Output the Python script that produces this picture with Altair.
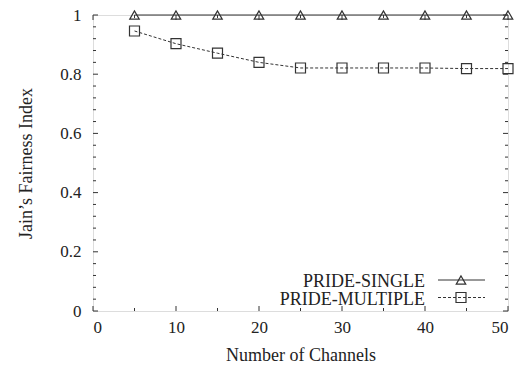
import altair as alt
import pandas as pd

channels = [5, 10, 15, 20, 25, 30, 35, 40, 45, 50]
single = [1.0, 1.0, 1.0, 1.0, 1.0, 1.0, 1.0, 1.0, 1.0, 1.0]
multiple = [0.946, 0.903, 0.871, 0.840, 0.821, 0.821, 0.821, 0.821, 0.819, 0.819]

x_major = [0, 10, 20, 30, 40, 50]
x_minor = [5, 15, 25, 35, 45]
y_major = [0, 0.2, 0.4, 0.6, 0.8, 1.0]
y_minor = [0.04, 0.08, 0.12, 0.16, 0.24, 0.28, 0.32, 0.36, 0.44, 0.48,
           0.52, 0.56, 0.64, 0.68, 0.72, 0.76, 0.84, 0.88, 0.92, 0.96]

series_names = ["PRIDE-SINGLE", "PRIDE-MULTIPLE"]

FONT = "Liberation Serif"
INK = "#222222"
LINE = "#333333"
W, H = 415, 296

df = pd.DataFrame({
    "channels": channels * 2,
    "value": single + multiple,
    "series": [series_names[0]] * len(channels) + [series_names[1]] * len(channels),
})
df_single = df[df.series == series_names[0]]
df_multi = df[df.series == series_names[1]]

xs = alt.Scale(domain=[0, 50], nice=False, zero=False)
ys = alt.Scale(domain=[0, 1], nice=False, zero=False)

X = alt.X("channels:Q", scale=xs, axis=alt.Axis(
    values=x_major, title="Number of Channels", grid=False, domain=False,
    ticks=False, labelFont=FONT, labelFontSize=17, labelColor=INK,
    labelPadding=8, titleFont=FONT, titleFontSize=18, titleFontWeight="normal",
    titleColor=INK, titlePadding=11))
Y = alt.Y("value:Q", scale=ys, axis=alt.Axis(
    values=y_major, format="~g", title="Jain\u2019s Fairness Index", grid=False,
    domain=False, ticks=False, labelFont=FONT, labelFontSize=17, labelColor=INK,
    labelPadding=12, titleFont=FONT, titleFontSize=18, titleFontWeight="normal",
    titleColor=INK, titlePadding=24))

line_single = alt.Chart(df_single).mark_line(color=LINE, strokeWidth=1).encode(x=X, y=Y)
pts_single = alt.Chart(df_single).mark_point(
    shape="triangle-up", size=90, filled=False, color=LINE, strokeWidth=1.2, opacity=1
).encode(x=alt.X("channels:Q", scale=xs), y=alt.Y("value:Q", scale=ys))
line_multi = alt.Chart(df_multi).mark_line(
    color=LINE, strokeWidth=1, strokeDash=[3, 2]
).encode(x=alt.X("channels:Q", scale=xs), y=alt.Y("value:Q", scale=ys))
pts_multi = alt.Chart(df_multi).mark_point(
    shape="square", size=100, filled=False, color=LINE, strokeWidth=1.2, opacity=1
).encode(x=alt.X("channels:Q", scale=xs), y=alt.Y("value:Q", scale=ys))

# inward ticks
xmaj = pd.DataFrame({"t": x_major})
xmin = pd.DataFrame({"t": x_minor})
ymaj = pd.DataFrame({"t": y_major})
ymin = pd.DataFrame({"t": y_minor})

def xticks(d, ln):
    b = alt.Chart(d).mark_rule(color=LINE, strokeWidth=1).encode(
        x=alt.X("t:Q", scale=xs), y=alt.value(H), y2=alt.value(H - ln))
    t = alt.Chart(d).mark_rule(color=LINE, strokeWidth=1).encode(
        x=alt.X("t:Q", scale=xs), y=alt.value(0), y2=alt.value(ln))
    return b + t

def yticks(d, ln):
    l = alt.Chart(d).mark_rule(color=LINE, strokeWidth=1).encode(
        y=alt.Y("t:Q", scale=ys), x=alt.value(0), x2=alt.value(ln))
    r = alt.Chart(d).mark_rule(color=LINE, strokeWidth=1).encode(
        y=alt.Y("t:Q", scale=ys), x=alt.value(W), x2=alt.value(W - ln))
    return l + r

ticks = xticks(xmaj, 5) + xticks(xmin, 3) + yticks(ymaj, 5) + yticks(ymin, 3)

# legend
leg = pd.DataFrame({"name": series_names})
leg1 = leg[leg.name == series_names[0]]
leg2 = leg[leg.name == series_names[1]]
legend_font = dict(font=FONT, fontSize=18, color=INK, align="right", baseline="middle")
lt1 = alt.Chart(leg1).mark_text(**legend_font).encode(
    text="name:N", x=alt.value(332), y=alt.value(266.5))
lt2 = alt.Chart(leg2).mark_text(**legend_font).encode(
    text="name:N", x=alt.value(332), y=alt.value(284.5))
ll1 = alt.Chart(leg1).mark_rule(color=LINE, strokeWidth=1).encode(
    x=alt.value(345), x2=alt.value(392), y=alt.value(265))
ll2 = alt.Chart(leg2).mark_rule(color=LINE, strokeWidth=1, strokeDash=[3, 2]).encode(
    x=alt.value(345), x2=alt.value(392), y=alt.value(282.5))
lp1 = alt.Chart(leg1).mark_point(shape="triangle-up", size=90, filled=False, color=LINE,
                                 strokeWidth=1.2, opacity=1).encode(
    x=alt.value(368), y=alt.value(265))
lp2 = alt.Chart(leg2).mark_point(shape="square", size=100, filled=False, color=LINE,
                                 strokeWidth=1.2, opacity=1).encode(
    x=alt.value(368), y=alt.value(282.5))
legend = lt1 + lt2 + ll1 + ll2 + lp1 + lp2

chart = alt.layer(
    line_single, line_multi, ticks, pts_single, pts_multi, legend
).properties(
    width=W, height=H,
    autosize=alt.AutoSizeParams(type="none"),
    padding={"left": 85, "top": 7, "right": 16, "bottom": 56},
).configure_view(
    stroke=LINE, strokeWidth=1
).configure(background="white")

chart.save("out.html", embed_options={"renderer": "svg", "actions": False})
